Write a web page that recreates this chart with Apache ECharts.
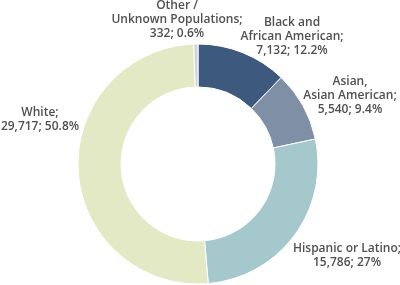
<!DOCTYPE html>
<html>
<head>
<meta charset="utf-8">
<script src="https://cdn.jsdelivr.net/npm/echarts@6/dist/echarts.min.js"></script>
<style>
  html, body { margin: 0; padding: 0; background: #fff; }
  #chart { width: 400px; height: 285px; }
</style>
</head>
<body>
<div id="chart"></div>
<script>
// Population by race / ethnicity
const groups = [
  "Black and\nAfrican American;",
  "Asian,\nAsian American;",
  "Hispanic or Latino;",
  "White;",
  "Other /\nUnknown Populations;"
];
const counts = [7132, 5540, 15786, 29717, 332];
const shares = ["12.2%", "9.4%", "27%", "50.8%", "0.6%"];
const colors = ["#3d5a7e", "#7f8fa5", "#a4c8cc", "#e3e8c5", "#d0d4d6"];

// label centres (text block), one per slice
const labelSpots = [
  [292, 37],
  [350, 96],
  [347, 256],
  [40, 120],
  [177, 20]
];

const chart = echarts.init(document.getElementById("chart"));

const option = {
  animation: false,
  series: [
    {
      type: "pie",
      center: [198, 164],
      radius: [77, 120],
      startAngle: 90,
      clockwise: true,
      data: groups.map((name, i) => ({
        name: name,
        value: counts[i],
        itemStyle: { color: colors[i] }
      })),
      itemStyle: { borderColor: "#fff", borderWidth: 1 },
      label: {
        show: true,
        position: "outside",
        formatter: (p) =>
          p.name + "\n" + counts[p.dataIndex].toLocaleString("en-US") + "; " + shares[p.dataIndex],
        fontFamily: "Open Sans",
        fontWeight: 600,
        fontSize: 12,
        lineHeight: 14,
        color: "#505050",
        align: "center",
        overflow: "none",
        width: 160
      },
      labelLine: { show: false },
      labelLayout: (params) => {
        const s = labelSpots[params.dataIndex];
        return {
          x: s[0],
          y: s[1],
          align: "center",
          verticalAlign: "middle"
        };
      },
      emphasis: { disabled: true }
    }
  ]
};

chart.setOption(option);

window.addEventListener("resize", () => chart.resize());
</script>
</body>
</html>
